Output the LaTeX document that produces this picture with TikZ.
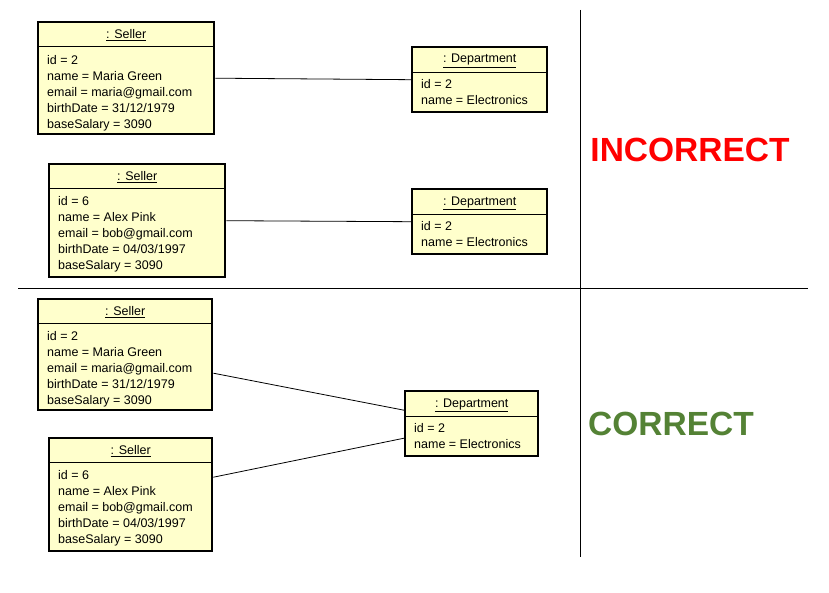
\documentclass[tikz,border=0pt]{standalone}
\usepackage{fontspec}
\setmainfont{Liberation Sans}
\usetikzlibrary{positioning,calc}
\definecolor{objYellow}{HTML}{FFFFCC}
\definecolor{wrongRed}{HTML}{FF0000}
\definecolor{rightGreen}{HTML}{548235}
\tikzset{
    objbox/.style={draw=black,fill=objYellow,line width=2.4pt,anchor=north west,
        inner sep=0pt},
    objtitle/.style={font=\fontsize{12.5}{16}\selectfont,inner sep=0pt},
    objbody/.style={font=\fontsize{12.5}{16}\selectfont,align=left,
        anchor=north west,inner sep=0pt},
    link/.style={draw=black,line width=0.8pt},
    divider/.style={draw=black,line width=0.8pt},
    verdict/.style={font=\fontsize{33.5}{36}\selectfont\bfseries,inner sep=0pt}
}
\begin{document}
\begin{tikzpicture}[x=1pt,y=-1pt]
    \useasboundingbox (0,0) rectangle (829,593);
    % dividers
    \coordinate (vtop) at (580,10);
    \coordinate (vbot) at (580,557);
    \coordinate (hleft) at (18,288);
    \coordinate (hright) at (808,288);
    \draw[divider] (vtop) -- (vbot);
    \draw[divider] (hleft) -- (hright);

    % incorrect: two department objects
    \node[objbox,minimum width=176pt,minimum height=112pt] (sellerA) at (37,21) {};
    \draw[line width=0.8pt] ([yshift=-25pt]sellerA.north west) -- ([yshift=-25pt]sellerA.north east);
    \node[objtitle] (sellerAt) at ([yshift=-14.5pt]sellerA.north) {\underline{: Seller}};
    \node[objbody] (sellerAb) at ([xshift=10pt,yshift=-34pt]sellerA.north west)
        {id = 2\\name = Maria Green\\email = maria@gmail.com\\birthDate = 31/12/1979\\baseSalary = 3090};

    \node[objbox,minimum width=135pt,minimum height=65pt] (deptA) at (411,46) {};
    \draw[line width=0.8pt] ([yshift=-26pt]deptA.north west) -- ([yshift=-26pt]deptA.north east);
    \node[objtitle] (deptAt) at ([yshift=-15pt]deptA.north) {\underline{: Department}};
    \node[objbody] (deptAb) at ([xshift=10pt,yshift=-33pt]deptA.north west)
        {id = 2\\name = Electronics};

    \node[objbox,minimum width=176pt,minimum height=113pt] (sellerB) at (48,163) {};
    \draw[line width=0.8pt] ([yshift=-25pt]sellerB.north west) -- ([yshift=-25pt]sellerB.north east);
    \node[objtitle] (sellerBt) at ([yshift=-14.5pt]sellerB.north) {\underline{: Seller}};
    \node[objbody] (sellerBb) at ([xshift=10pt,yshift=-33pt]sellerB.north west)
        {id = 6\\name = Alex Pink\\email = bob@gmail.com\\birthDate = 04/03/1997\\baseSalary = 3090};

    \node[objbox,minimum width=135pt,minimum height=65pt] (deptB) at (411,188) {};
    \draw[line width=0.8pt] ([yshift=-26pt]deptB.north west) -- ([yshift=-26pt]deptB.north east);
    \node[objtitle] (deptBt) at ([yshift=-15pt]deptB.north) {\underline{: Department}};
    \node[objbody] (deptBb) at ([xshift=10pt,yshift=-33pt]deptB.north west)
        {id = 2\\name = Electronics};

    \draw[link] (sellerA.east) -- (deptA.west);
    \draw[link] (sellerB.east) -- (deptB.west);

    \node[verdict,text=wrongRed] (wrong) at (690,150) {INCORRECT};

    % correct: one shared department object
    \node[objbox,minimum width=174pt,minimum height=111pt] (sellerC) at (37,298) {};
    \draw[line width=0.8pt] ([yshift=-25pt]sellerC.north west) -- ([yshift=-25pt]sellerC.north east);
    \node[objtitle] (sellerCt) at ([yshift=-14.5pt]sellerC.north) {\underline{: Seller}};
    \node[objbody] (sellerCb) at ([xshift=10pt,yshift=-33pt]sellerC.north west)
        {id = 2\\name = Maria Green\\email = maria@gmail.com\\birthDate = 31/12/1979\\baseSalary = 3090};

    \node[objbox,minimum width=163pt,minimum height=113pt] (sellerD) at (48,437) {};
    \draw[line width=0.8pt] ([yshift=-25pt]sellerD.north west) -- ([yshift=-25pt]sellerD.north east);
    \node[objtitle] (sellerDt) at ([yshift=-14.5pt]sellerD.north) {\underline{: Seller}};
    \node[objbody] (sellerDb) at ([xshift=10pt,yshift=-33pt]sellerD.north west)
        {id = 6\\name = Alex Pink\\email = bob@gmail.com\\birthDate = 04/03/1997\\baseSalary = 3090};

    \node[objbox,minimum width=133pt,minimum height=65pt] (deptC) at (404,390) {};
    \draw[line width=0.8pt] ([yshift=-26pt]deptC.north west) -- ([yshift=-26pt]deptC.north east);
    \node[objtitle] (deptCt) at ([yshift=-15pt]deptC.north) {\underline{: Department}};
    \node[objbody] (deptCb) at ([xshift=10pt,yshift=-33pt]deptC.north west)
        {id = 2\\name = Electronics};

    \draw[link] ([yshift=-18.5pt]sellerC.east) -- ([yshift=13.5pt]deptC.west);
    \draw[link] ([yshift=17.5pt]sellerD.east) -- ([yshift=-14.5pt]deptC.west);

    \node[verdict,text=rightGreen] (right) at (671,424) {CORRECT};
\end{tikzpicture}
\end{document}
